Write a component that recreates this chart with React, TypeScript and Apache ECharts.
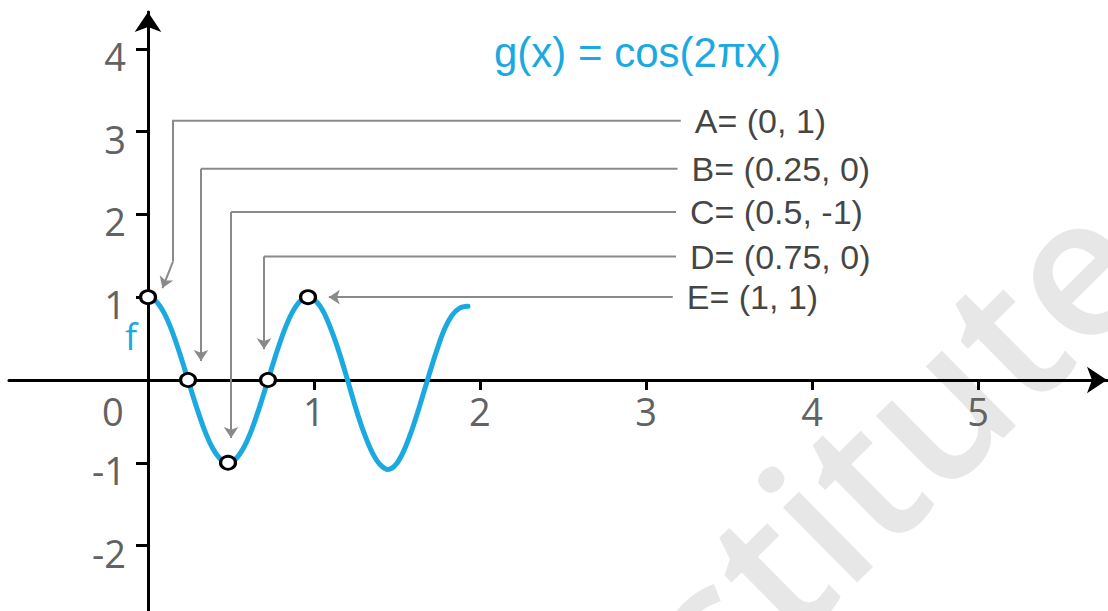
import React, { useEffect, useRef } from "react";
import * as echarts from "echarts";

// ---- data ----
const xTickValues = [1, 2, 3, 4, 5];
const xLabelValues = [0, 1, 2, 3, 4, 5];
const yTickValues = [-2, -1, 1, 2, 3, 4];

// curve values (x step 0.05)
const curveX = [
  0, 0.05, 0.1, 0.15, 0.2, 0.25, 0.3, 0.35, 0.4, 0.45, 0.5, 0.55, 0.6, 0.65, 0.7, 0.75, 0.8, 0.85, 0.9, 0.95, 1,
  1.05, 1.1, 1.15, 1.2, 1.25, 1.3, 1.35, 1.4, 1.45, 1.5, 1.55, 1.6, 1.65, 1.7, 1.75, 1.8, 1.85, 1.9, 1.95, 2,
];
const curveY = [
  1, 0.95, 0.81, 0.59, 0.31, 0, -0.31, -0.59, -0.81, -0.95, -1, -0.95, -0.81, -0.59, -0.31, 0, 0.31, 0.59, 0.81, 0.95, 1,
  0.95, 0.81, 0.58, 0.3, -0.02, -0.35, -0.64, -0.87, -1.02, -1.08, -1.02, -0.85, -0.6, -0.3, 0.02, 0.33, 0.6, 0.78, 0.87, 0.89,
];

const pointNames = ["A", "B", "C", "D", "E"];
const pointX = [0, 0.25, 0.5, 0.75, 1];
const pointY = [1, 0, -1, 0, 1];
const pointLabels = ["A= (0, 1)", "B= (0.25, 0)", "C= (0.5, -1)", "D= (0.75, 0)", "E= (1, 1)"];

// leader paths (data coordinates), from label to arrow tip
const leaderA = [[3.33, 3.13], [0.156, 3.13], [0.156, 1.43], [0.09, 1.11]];
const leaderB = [[3.31, 2.55], [0.331, 2.55], [0.331, 0.23]];
const leaderC = [[3.3, 2.03], [0.519, 2.03], [0.519, -0.7]];
const leaderD = [[3.3, 1.49], [0.725, 1.49], [0.725, 0.37]];
const leaderE = [[3.28, 1.0], [1.13, 1.0]];
const leaders = [leaderA, leaderB, leaderC, leaderD, leaderE];

const titleText = "g(x) = cos(2\u03c0x)";
const curveName = "f";
const watermarkText = "Institute";

const BLUE = "#1aa9e1";
const TICK_GRAY = "#626262";

export default function App() {
  const ref = useRef<HTMLDivElement>(null);

  useEffect(() => {
    if (!ref.current) return;
    const chart = echarts.init(ref.current, undefined, { renderer: "svg" });

    const polyParts = leaders
      .filter((l) => l.length > 2)
      .map((l) => ({ coords: l.slice(0, l.length - 1) }));
    const arrowParts = leaders.map((l) => ({ coords: l.slice(l.length - 2) }));

    const option: any = {
      animation: false,
      backgroundColor: "#ffffff",
      title: {
        text: titleText,
        left: 494,
        top: 31,
        padding: 0,
        textStyle: {
          fontFamily: "Liberation Sans, Arial, sans-serif",
          fontSize: 42,
          fontWeight: "normal",
          color: BLUE,
        },
      },
      grid: { left: 9, right: 1, top: 12, bottom: 0, containLabel: false, outerBoundsMode: "none" },
      xAxis: [
        {
          type: "value",
          min: -0.837,
          max: 5.777,
          position: "bottom",
          offset: -231,
          axisLine: {
            onZero: false,
            symbol: ["none", "arrow"],
            symbolSize: [20, 20],
            lineStyle: { color: "#000", width: 3 },
          },
          axisTick: {
            show: true,
            customValues: xTickValues,
            length: 10,
            lineStyle: { color: "#000", width: 3 },
          },
          axisLabel: {
            show: true,
            customValues: xLabelValues,
            margin: 12,
            fontSize: 38,
            fontFamily: "Open Sans",
            color: TICK_GRAY,
            formatter: (v: number) => (v === 0 ? "{z|0}" : String(v)),
            rich: {
              z: { fontSize: 38, fontFamily: "Open Sans", color: TICK_GRAY, padding: [0, 70, 0, 0] },
            },
          },
          splitLine: { show: false },
        },
        {
          type: "value",
          min: -0.869,
          max: 5.994,
          show: false,
          splitLine: { show: false },
        },
      ],
      yAxis: {
        type: "value",
        min: -2.79,
        max: 4.444,
        position: "left",
        offset: -139,
        axisLine: {
          onZero: false,
          symbol: ["none", "arrow"],
          symbolSize: [20, 20],
          lineStyle: { color: "#000", width: 3 },
        },
        axisTick: {
          show: true,
          customValues: yTickValues,
          length: 12,
          lineStyle: { color: "#000", width: 3 },
        },
        axisLabel: {
          show: true,
          customValues: yTickValues,
          margin: 22,
          fontSize: 38,
          fontFamily: "Open Sans",
          color: TICK_GRAY,
          formatter: (v: number) => "{v|" + v + "}",
          rich: {
            v: { fontSize: 38, fontFamily: "Open Sans", color: TICK_GRAY, padding: [14, 0, 0, 0] },
          },
        },
        splitLine: { show: false },
      },
      graphic: [
        {
          type: "text",
          z: -100,
          x: 540,
          y: 790,
          rotation: 0.78,
          silent: true,
          style: {
            text: watermarkText,
            fontSize: 195,
            fontWeight: 600,
            fontFamily: "Open Sans",
            fill: "#e7e7e7",
            textAlign: "left",
            textVerticalAlign: "middle",
          },
        },
        {
          type: "text",
          x: 125,
          y: 318,
          style: {
            text: curveName,
            fontSize: 36,
            fontFamily: "Open Sans",
            fill: BLUE,
          },
        },
      ],
      series: [
        {
          type: "lines",
          name: "leaders",
          coordinateSystem: "cartesian2d",
          xAxisIndex: 1,
          polyline: true,
          silent: true,
          lineStyle: { color: "#8a8a8a", width: 2, opacity: 1 },
          data: polyParts,
          z: 3,
        },
        {
          type: "lines",
          name: "arrows",
          coordinateSystem: "cartesian2d",
          xAxisIndex: 1,
          silent: true,
          symbol: ["none", "arrow"],
          symbolSize: 11,
          lineStyle: { color: "#8a8a8a", width: 2, opacity: 1, curveness: 0 },
          data: arrowParts,
          z: 3,
        },
        {
          type: "line",
          name: curveName,
          xAxisIndex: 1,
          data: curveX.map((x, i) => [x, curveY[i]]),
          smooth: 0.3,
          showSymbol: false,
          symbol: "none",
          lineStyle: { color: BLUE, width: 5, cap: "round" },
          z: 4,
        },
        {
          type: "scatter",
          name: "points",
          xAxisIndex: 1,
          data: pointX.map((x, i) => ({ name: pointNames[i], value: [x, pointY[i]] })),
          symbol: "circle",
          symbolSize: [15, 13],
          itemStyle: { color: "#ffffff", borderColor: "#000000", borderWidth: 3, opacity: 1 },
          z: 6,
        },
        {
          type: "scatter",
          name: "labels",
          xAxisIndex: 1,
          data: leaders.map((l, i) => ({ name: pointLabels[i], value: [l[0][0], l[0][1]] })),
          symbol: "circle",
          symbolSize: 2,
          itemStyle: { color: "rgba(0,0,0,0)" },
          label: {
            show: true,
            position: "right",
            distance: 13,
            formatter: (p: any) => p.name,
            fontSize: 34,
            fontFamily: "Liberation Sans, Arial, sans-serif",
            color: "#111111",
          },
          z: 6,
        },
      ],
    };

    chart.setOption(option);
    return () => chart.dispose();
  }, []);

  return (
    <div
      ref={ref}
      style={{ position: "fixed", left: 0, top: 0, width: 1108, height: 611, background: "#fff" }}
    />
  );
}
